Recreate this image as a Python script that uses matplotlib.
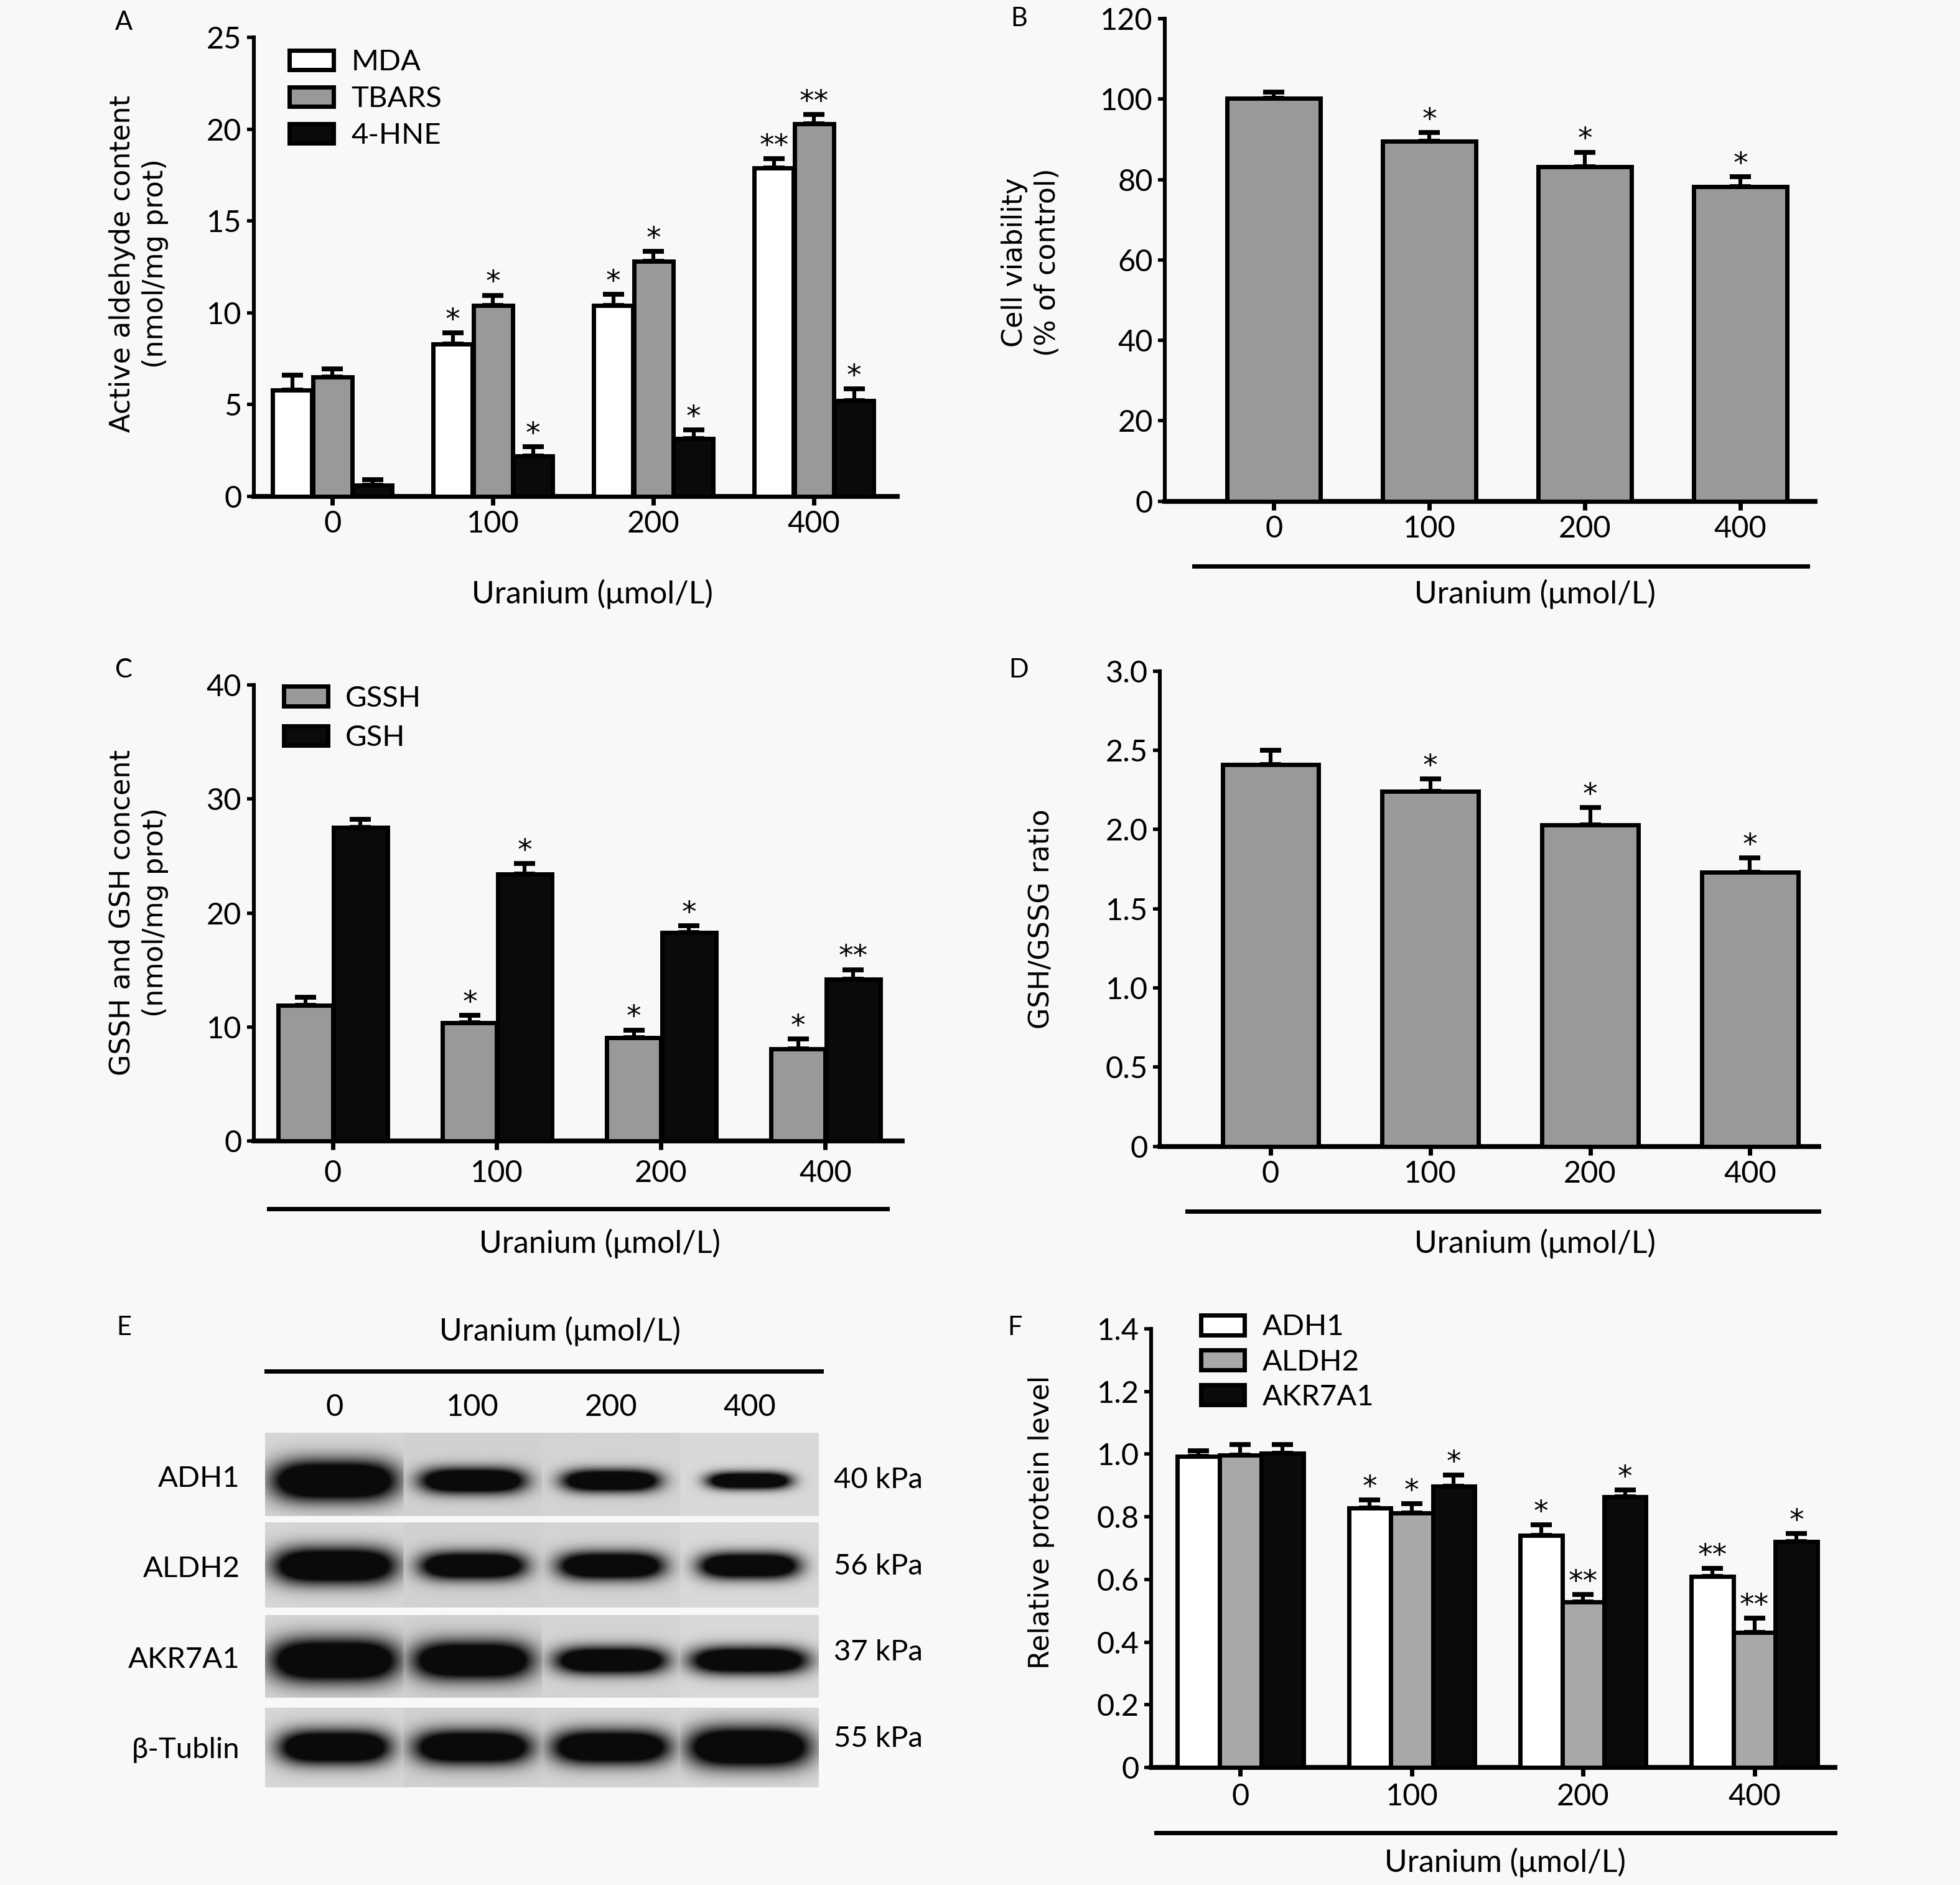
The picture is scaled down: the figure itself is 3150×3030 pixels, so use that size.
import numpy as np
import matplotlib
matplotlib.use("Agg")
import matplotlib.pyplot as plt
from matplotlib.lines import Line2D

# layout grid of the reference (display units), converted to figure fractions
W, H = 1568, 1508

doses = ["0", "100", "200", "400"]

# A: active aldehyde content (nmol/mg prot)
mda = [5.8, 8.3, 10.4, 17.9]
mda_err = [0.8, 0.6, 0.6, 0.5]
tbars = [6.5, 10.4, 12.8, 20.3]
tbars_err = [0.45, 0.55, 0.55, 0.5]
hne = [0.6, 2.2, 3.15, 5.2]
hne_err = [0.3, 0.5, 0.45, 0.65]
mda_stars = ["", "*", "*", "**"]
tbars_stars = ["", "*", "*", "**"]
hne_stars = ["", "*", "*", "*"]

# B: cell viability (% of control)
viability = [100.2, 89.5, 83.2, 78.2]
viability_err = [1.6, 2.2, 3.6, 2.5]
viability_stars = ["", "*", "*", "*"]

# C: GSSH / GSH content (nmol/mg prot)
gssh = [11.9, 10.4, 9.1, 8.1]
gssh_err = [0.7, 0.65, 0.65, 0.85]
gsh = [27.5, 23.4, 18.3, 14.2]
gsh_err = [0.75, 0.95, 0.6, 0.85]
gssh_stars = ["", "*", "*", "*"]
gsh_stars = ["", "*", "*", "**"]

# D: GSH/GSSG ratio
ratio = [2.41, 2.24, 2.03, 1.73]
ratio_err = [0.09, 0.08, 0.11, 0.09]
ratio_stars = ["", "*", "*", "*"]

# E: western blot bands (half width / half height in lane units)
blot_rows = ["ADH1", "ALDH2", "AKR7A1", "β-Tublin"]
blot_kda = ["40 kPa", "56 kPa", "37 kPa", "55 kPa"]
band_width = [[0.45, 0.38, 0.35, 0.30],
              [0.44, 0.38, 0.38, 0.36],
              [0.46, 0.43, 0.40, 0.42],
              [0.40, 0.42, 0.42, 0.44]]
band_height = [[0.24, 0.15, 0.13, 0.10],
               [0.21, 0.16, 0.16, 0.15],
               [0.26, 0.23, 0.16, 0.16],
               [0.21, 0.21, 0.21, 0.25]]
band_center = [0.58, 0.51, 0.55, 0.50]

# F: relative protein level
adh1 = [0.992, 0.828, 0.741, 0.609]
adh1_err = [0.019, 0.026, 0.033, 0.026]
aldh2 = [0.996, 0.813, 0.528, 0.432]
aldh2_err = [0.034, 0.029, 0.024, 0.044]
akr7a1 = [1.002, 0.897, 0.864, 0.72]
akr7a1_err = [0.028, 0.036, 0.021, 0.027]
adh1_stars = ["", "*", "*", "**"]
aldh2_stars = ["", "*", "**", "**"]
akr7a1_stars = ["", "*", "*", "*"]

WHITE, GRAY, LGRAY, BLACK = "#ffffff", "#999999", "#a8a8a8", "#0a0a0a"
BG = "#f8f8f8"

LABEL_FONT = "DejaVu Sans"
TICK_FS = 17.5
LAB_FS = 17
YLAB_FS = 16

plt.rcParams["font.family"] = ["Lato", "DejaVu Sans"]

fig = plt.figure(figsize=(15.75, 15.15), dpi=200, facecolor=BG)


def fx(x):
    return x / W


def fy(y):
    return 1 - y / H


def make_axes(left, right, top, bottom, xpad=3):
    ax = fig.add_axes([fx(left), fy(bottom), fx(right) - fx(left), fy(top) - fy(bottom)])
    ax.set_facecolor("none")
    for s in ("top", "right"):
        ax.spines[s].set_visible(False)
    ax.spines["left"].set_linewidth(2.2)
    ax.spines["bottom"].set_linewidth(2.8)
    ax.tick_params(axis="y", width=2, length=4, labelsize=TICK_FS, pad=3)
    ax.tick_params(axis="x", width=2.5, length=5, labelsize=TICK_FS, pad=xpad)
    return ax


def draw_bars(ax, series, errs, colors, offsets, width, stars, labels=None):
    x = np.arange(len(doses))
    for i, (vals, err, col, off, st) in enumerate(zip(series, errs, colors, offsets, stars)):
        xp = x + off
        ax.bar(xp, vals, width, color=col, edgecolor="black", linewidth=2.5, zorder=3,
               label=labels[i] if labels else None)
        ax.errorbar(xp, vals, yerr=np.vstack([np.zeros(len(vals)), err]), fmt="none",
                    ecolor="black", elinewidth=2.2, capsize=6, capthick=2.8, zorder=2)
        for xi, v, e, s in zip(xp, vals, err, st):
            if s:
                ax.annotate(s, (xi, v + e), xytext=(0, -1), textcoords="offset points",
                            ha="center", va="bottom", fontsize=17, family="DejaVu Sans")
    ax.set_xticks(x)
    ax.set_xticklabels(doses)


def underline(x0, x1, y):
    fig.add_artist(Line2D([fx(x0), fx(x1)], [fy(y), fy(y)], transform=fig.transFigure,
                          color="black", lw=2.5))


def xlabel(x, y, text="Uranium (μmol/L)"):
    fig.text(fx(x), fy(y), text, ha="center", va="center", fontsize=LAB_FS + 1)


def ylabel(x, y, text):
    fig.text(fx(x), fy(y), text, ha="center", va="center", rotation=90,
             fontsize=YLAB_FS, family=LABEL_FONT, linespacing=1.3)


def panel_letter(x, y, s):
    fig.text(fx(x), fy(y), s, ha="center", va="center", fontsize=15)


def legend(ax, anchor, spacing=0.3):
    ax.legend(loc="upper left", bbox_to_anchor=anchor, frameon=False, fontsize=LAB_FS,
              handlelength=1.5, handleheight=0.65, labelspacing=spacing, handletextpad=0.6,
              borderaxespad=0)


# ---- A ----
ax = make_axes(203, 718, 30, 397)
draw_bars(ax, [mda, tbars, hne], [mda_err, tbars_err, hne_err], [WHITE, GRAY, BLACK],
          [-0.25, 0, 0.25], 0.245, [mda_stars, tbars_stars, hne_stars],
          labels=["MDA", "TBARS", "4-HNE"])
ax.set_xlim(-0.49, 3.52)
ax.set_ylim(0, 25)
ax.set_yticks([0, 5, 10, 15, 20, 25])
legend(ax, (0.037, 1.0), spacing=0.36)
ylabel(111, 211, "Active aldehyde content\n(nmol/mg prot)")
xlabel(474, 475)
panel_letter(99, 18, "A")

# ---- B ----
ax = make_axes(932, 1452, 15, 401)
draw_bars(ax, [viability], [viability_err], [GRAY], [0], 0.6, [viability_stars])
ax.set_xlim(-0.7, 3.48)
ax.set_ylim(0, 120)
ax.set_yticks(np.arange(0, 121, 20))
underline(955, 1446, 453)
ylabel(825, 210, "Cell viability\n(% of control)")
xlabel(1228, 475)
panel_letter(815, 15, "B")

# ---- C ----
ax = make_axes(203, 722, 548, 913, xpad=5.5)
draw_bars(ax, [gssh, gsh], [gssh_err, gsh_err], [GRAY, BLACK], [-0.165, 0.17], 0.33,
          [gssh_stars, gsh_stars], labels=["GSSH", "GSH"])
ax.set_xlim(-0.48, 3.47)
ax.set_ylim(0, 40)
ax.set_yticks([0, 10, 20, 30, 40])
legend(ax, (0.028, 1.025), spacing=0.45)
underline(215, 710, 967)
ylabel(111, 730, "GSSH and GSH concent\n(nmol/mg prot)")
xlabel(480, 995)
panel_letter(99, 536, "C")

# ---- D ----
ax = make_axes(928, 1455, 537, 917)
draw_bars(ax, [ratio], [ratio_err], [GRAY], [0], 0.6, [ratio_stars])
ax.set_xlim(-0.69, 3.43)
ax.set_ylim(0, 3.0)
ax.set_yticks(np.arange(0, 3.01, 0.5))
ax.set_yticklabels(["0"] + [f"{v:.1f}" for v in np.arange(0.5, 3.01, 0.5)])
underline(950, 1455, 969)
ylabel(833, 735, "GSH/GSSG ratio")
xlabel(1228, 995)
panel_letter(815, 536, "D")

# ---- E: western blot ----
lane_x0, lane_x1 = 212, 655
row_spans = [(1146, 1213), (1218, 1286), (1292, 1358), (1366, 1430)]
row_label_y = [1183, 1255, 1328, 1400]
kda_label_y = [1184, 1253, 1322, 1391]
lane_bg = [0.84, 0.82, 0.83, 0.85]
nx, ny = 440, 70
for r, (y0, y1) in enumerate(row_spans):
    bax = fig.add_axes([fx(lane_x0), fy(y1), fx(lane_x1) - fx(lane_x0), fy(y0) - fy(y1)])
    xs = np.linspace(0, 4, nx)
    ys = np.linspace(0, 1, ny)
    X, Y = np.meshgrid(xs, ys)
    lane = np.clip(X.astype(int), 0, 3)
    img = np.array(lane_bg)[lane]
    for k in range(4):
        w = band_width[r][k]
        h = band_height[r][k]
        prof = np.exp(-(np.abs(X - (k + 0.5)) / w) ** 4) * np.exp(-((Y - band_center[r]) / h) ** 2)
        dark = np.clip(1.8 * prof, 0, 1)
        img = np.where(lane == k, img - (img - 0.04) * dark, img)
    bax.imshow(img, cmap="gray", vmin=0, vmax=1, aspect="auto", interpolation="bilinear")
    bax.set_axis_off()
    fig.text(fx(192), fy(row_label_y[r]), blot_rows[r], ha="right", va="center",
             fontsize=LAB_FS)
    fig.text(fx(667), fy(kda_label_y[r]), blot_kda[r], ha="left", va="center",
             fontsize=LAB_FS)
lane_w = (lane_x1 - lane_x0) / 4
for k, d in enumerate(doses):
    fig.text(fx(lane_x0 + lane_w * (k + 0.5)), fy(1126), d, ha="center", va="center",
             fontsize=TICK_FS)
underline(213, 657, 1097)
xlabel(448, 1065)
panel_letter(99, 1062, "E")

# ---- F ----
ax = make_axes(921, 1468, 1063, 1414, xpad=4)
draw_bars(ax, [adh1, aldh2, akr7a1], [adh1_err, aldh2_err, akr7a1_err],
          [WHITE, LGRAY, BLACK], [-0.245, 0, 0.245], 0.245,
          [adh1_stars, aldh2_stars, akr7a1_stars], labels=["ADH1", "ALDH2", "AKR7A1"])
ax.set_xlim(-0.52, 3.47)
ax.set_ylim(0, 1.4)
ax.set_yticks(np.arange(0, 1.41, 0.2))
ax.set_yticklabels(["0"] + [f"{v:.1f}" for v in np.arange(0.2, 1.41, 0.2)])
legend(ax, (0.055, 1.06))
underline(925, 1468, 1466)
ylabel(833, 1218, "Relative protein level")
xlabel(1204, 1490)
panel_letter(812, 1062, "F")

fig.savefig("out.png", dpi=200, facecolor=BG)
